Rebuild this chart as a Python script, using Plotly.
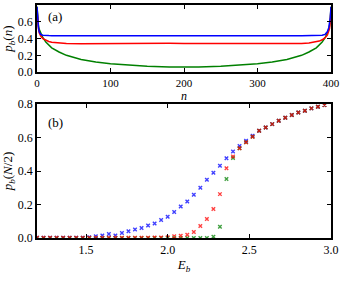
import plotly.graph_objects as go

# ---- panel (a): p_b(n) profiles ----
n_vals = [0, 1, 2, 3, 5, 8, 12, 16, 20, 30, 40, 60, 80, 100, 120, 150, 180, 200,
          220, 250, 280, 300, 320, 340, 360, 370, 380, 384, 388, 392, 395, 397, 398, 399, 400]
pa_blue = [0.78, 0.62, 0.53, 0.48, 0.45, 0.44, 0.435, 0.435, 0.434, 0.433, 0.434, 0.435, 0.434, 0.433,
           0.434, 0.435, 0.433, 0.432, 0.433, 0.432, 0.433, 0.433, 0.434, 0.433, 0.432, 0.432, 0.433,
           0.435, 0.44, 0.45, 0.48, 0.53, 0.58, 0.65, 0.78]
pa_red = [0.75, 0.60, 0.52, 0.47, 0.43, 0.40, 0.38, 0.365, 0.355, 0.345, 0.340, 0.338, 0.340, 0.342,
          0.341, 0.344, 0.343, 0.340, 0.338, 0.340, 0.342, 0.340, 0.338, 0.334, 0.340, 0.348, 0.360,
          0.37, 0.385, 0.41, 0.44, 0.48, 0.52, 0.60, 0.76]
pa_green = [0.78, 0.62, 0.55, 0.51, 0.46, 0.41, 0.36, 0.32, 0.29, 0.24, 0.20, 0.15, 0.12, 0.10,
            0.085, 0.07, 0.062, 0.06, 0.062, 0.07, 0.085, 0.10, 0.12, 0.15, 0.20, 0.24, 0.29,
            0.32, 0.36, 0.41, 0.46, 0.51, 0.55, 0.62, 0.78]

# ---- panel (b): p_b(N/2) vs E_b ----
E_vals = [1.20, 1.24, 1.28, 1.32, 1.36, 1.40, 1.44, 1.48, 1.52, 1.56, 1.60, 1.64, 1.68, 1.72, 1.76,
          1.80, 1.84, 1.88, 1.92, 1.96, 2.00, 2.04, 2.08, 2.12, 2.16, 2.20, 2.24, 2.28, 2.32, 2.36,
          2.40, 2.44, 2.48, 2.52, 2.56, 2.60, 2.64, 2.68, 2.72, 2.76, 2.80, 2.84, 2.88, 2.92, 2.96]
pb_blue = [0.001, 0.001, 0.001, 0.001, 0.001, 0.001, 0.002, 0.002, 0.005, 0.010, 0.015, 0.024, 0.015,
           0.030, 0.040, 0.051, 0.060, 0.075, 0.087, 0.107, 0.127, 0.155, 0.188, 0.218, 0.258, 0.300,
           0.348, 0.390, 0.432, 0.476, 0.516, 0.550, 0.580, 0.610, 0.640, 0.660, 0.680, 0.700, 0.718,
           0.734, 0.750, 0.760, 0.774, 0.784, 0.794]
pb_green = [0.0, 0.0, 0.0, 0.0, 0.0, 0.0, 0.0, 0.0, 0.0, 0.0, 0.0, 0.0, 0.0, 0.0, 0.0,
            0.0, 0.0, 0.0, 0.0, 0.0, 0.0, 0.0, 0.0, 0.0, 0.0, 0.0, 0.0, 0.008, 0.067, 0.353,
            0.478, 0.536, 0.572, 0.605, 0.640, 0.660, 0.680, 0.700, 0.718, 0.734, 0.750, 0.760, 0.774, 0.784, 0.794]
pb_red = [0.001, 0.001, 0.001, 0.001, 0.001, 0.001, 0.001, 0.001, 0.001, 0.001, 0.001, 0.001, 0.001,
          0.001, 0.001, 0.002, 0.002, 0.002, 0.003, 0.003, 0.005, 0.010, 0.014, 0.020, 0.036, 0.071,
          0.113, 0.173, 0.262, 0.417, 0.486, 0.536, 0.572, 0.605, 0.640, 0.660, 0.680, 0.700, 0.718,
          0.734, 0.750, 0.760, 0.774, 0.784, 0.794]

FONT = "Liberation Serif, Times New Roman, serif"
BLUE, RED, GREEN = "#0000ff", "#ff0000", "#008000"

fig = go.Figure()
for y, c in [(pa_green, GREEN), (pa_red, RED), (pa_blue, BLUE)]:
    fig.add_trace(go.Scatter(x=n_vals, y=y, mode="lines", line=dict(color=c, width=1.5),
                             xaxis="x", yaxis="y", showlegend=False))
for y, c in [(pb_blue, BLUE), (pb_green, GREEN), (pb_red, RED)]:
    fig.add_trace(go.Scatter(x=E_vals, y=y, mode="markers",
                             marker=dict(symbol="x-thin", size=3.5, color=c, opacity=0.75,
                                         line=dict(color=c, width=1.4)),
                             xaxis="x2", yaxis="y2", showlegend=False))

axis_common = dict(showline=True, linecolor="black", linewidth=1.5, mirror="allticks",
                   ticks="inside", ticklen=4, tickcolor="black", showgrid=False, zeroline=False,
                   automargin=False)
tf12 = dict(family=FONT, size=12, color="black")
tf11 = dict(family=FONT, size=11, color="black")

fig.update_layout(
    width=354, height=282,
    margin=dict(l=37, r=23, t=5, b=44),
    paper_bgcolor="white", plot_bgcolor="white",
    font=dict(family=FONT, size=12, color="black"),
    xaxis=dict(domain=[0, 1], anchor="y", range=[0, 400], tickvals=[0, 100, 200, 300, 400],
               tickfont=tf11, **axis_common),
    yaxis=dict(domain=[0.712, 1], anchor="x", range=[0, 0.8], tickvals=[0, 0.2, 0.4, 0.6, 0.8],
               tickformat=".1f", tickfont=tf12,
               title=dict(text="<i>p<sub>b</sub></i>(<i>n</i>)", standoff=4, font=dict(family=FONT, size=13)),
               **axis_common),
    xaxis2=dict(domain=[0, 1], anchor="y2", range=[1.2, 3.0], tickvals=[1.5, 2.0, 2.5, 3.0],
                tickformat=".1f", tickfont=tf12,
                title=dict(text="<i>E<sub>b</sub></i>", standoff=4, font=dict(family=FONT, size=13)),
                **axis_common),
    yaxis2=dict(domain=[0, 0.575], anchor="x2", range=[0, 0.8], tickvals=[0, 0.2, 0.4, 0.6, 0.8],
                tickformat=".1f", tickfont=tf12,
                title=dict(text="<i>p<sub>b</sub></i>(<i>N</i>/2)", standoff=4, font=dict(family=FONT, size=13)),
                **axis_common),
    annotations=[
        dict(text="<i>n</i>", xref="x domain", yref="paper", x=0.5, y=0.608, xanchor="center",
             yanchor="middle", showarrow=False, font=dict(family=FONT, size=12)),
        dict(text="(a)", xref="x domain", yref="y domain", x=0.03, y=0.97, xanchor="left",
             yanchor="top", showarrow=False, font=dict(family=FONT, size=13)),
        dict(text="(b)", xref="x2 domain", yref="y2 domain", x=0.03, y=0.93, xanchor="left",
             yanchor="top", showarrow=False, font=dict(family=FONT, size=13)),
    ],
)

fig.write_html("out.html", config={"displayModeBar": False},
               post_script="document.body.style.margin='0';")
